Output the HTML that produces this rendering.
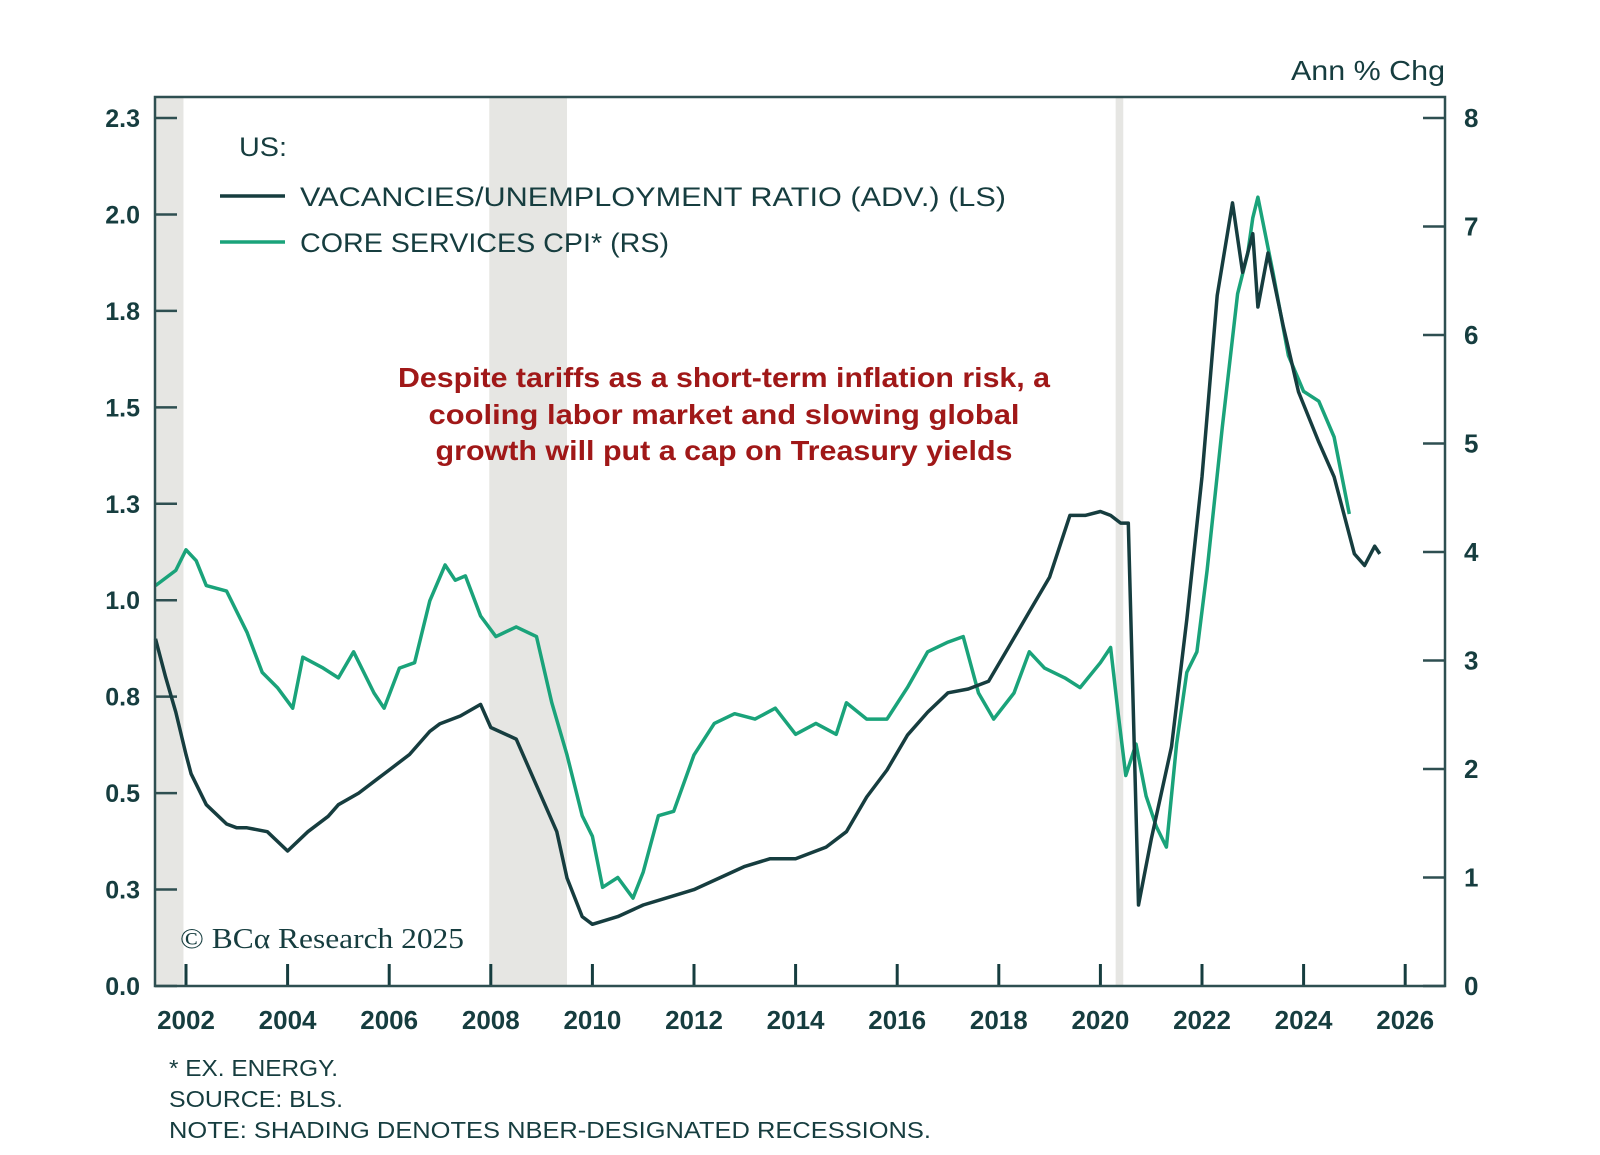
<!DOCTYPE html>
<html><head><meta charset="utf-8"><style>
html,body{margin:0;padding:0;background:#fff;}
svg{display:block;font-family:"Liberation Sans",sans-serif;}
</style></head><body>
<svg id="chart" width="1600" height="1155" viewBox="0 0 1600 1155" xmlns="http://www.w3.org/2000/svg">
<g id="shade"></g>
<g id="grid"></g>
<g id="lines"></g>
<rect x="155" y="97" width="1290" height="889" fill="none" stroke="#2e4f51" stroke-width="2.5"/>
<text x="1291" y="80" textLength="154" lengthAdjust="spacingAndGlyphs" font-size="28" fill="#163d3f">Ann % Chg</text>
<text x="239" y="156" textLength="48" lengthAdjust="spacingAndGlyphs" font-size="27" fill="#163d3f">US:</text>
<line x1="220" y1="196" x2="285" y2="196" stroke="#163d3f" stroke-width="3.5"/>
<text x="300" y="206" textLength="706" lengthAdjust="spacingAndGlyphs" font-size="27" fill="#163d3f">VACANCIES/UNEMPLOYMENT RATIO (ADV.) (LS)</text>
<line x1="220" y1="242" x2="285" y2="242" stroke="#1aa37a" stroke-width="3.5"/>
<text x="300" y="252" textLength="369" lengthAdjust="spacingAndGlyphs" font-size="27" fill="#163d3f">CORE SERVICES CPI* (RS)</text>
<g font-size="28" font-weight="bold" fill="#a01818" text-anchor="middle">
<text x="724" y="387" textLength="652" lengthAdjust="spacingAndGlyphs">Despite tariffs as a short-term inflation risk, a</text>
<text x="724" y="424" textLength="591" lengthAdjust="spacingAndGlyphs">cooling labor market and slowing global</text>
<text x="724" y="460" textLength="577" lengthAdjust="spacingAndGlyphs">growth will put a cap on Treasury yields</text>
</g>
<text x="180" y="948" textLength="284" lengthAdjust="spacingAndGlyphs" font-size="28" fill="#163d3f" font-family="Liberation Serif, serif">© BCα Research 2025</text>
<g font-size="23" fill="#163d3f">
<text x="169" y="1076" textLength="169" lengthAdjust="spacingAndGlyphs">* EX. ENERGY.</text>
<text x="169" y="1107" textLength="174" lengthAdjust="spacingAndGlyphs">SOURCE: BLS.</text>
<text x="169" y="1138" textLength="762" lengthAdjust="spacingAndGlyphs">NOTE: SHADING DENOTES NBER-DESIGNATED RECESSIONS.</text>
</g>
</svg>
<script>
const xTicks=[2002,2004,2006,2008,2010,2012,2014,2016,2018,2020,2022,2024,2026];
const leftTicks=[0,0.25,0.5,0.75,1,1.25,1.5,1.75,2,2.25];
const leftTickLabels=["0.0","0.3","0.5","0.8","1.0","1.3","1.5","1.8","2.0","2.3"];
const rightTicks=[0,1,2,3,4,5,6,7,8];
const recessions=[[2001.2,2001.95],[2007.97,2009.5],[2020.3,2020.45]];
const vuYears=[2001.4,2001.6,2001.8,2002.0,2002.1,2002.4,2002.8,2003.0,2003.2,2003.6,2004.0,2004.4,2004.8,2005.0,2005.4,2005.8,2006.0,2006.4,2006.8,2007.0,2007.4,2007.8,2008.0,2008.5,2008.9,2009.3,2009.5,2009.8,2010.0,2010.5,2011.0,2011.5,2012.0,2012.5,2013.0,2013.5,2014.0,2014.6,2015.0,2015.4,2015.8,2016.2,2016.6,2017.0,2017.4,2017.8,2018.2,2018.6,2019.0,2019.4,2019.7,2020.0,2020.2,2020.4,2020.55,2020.75,2021.0,2021.4,2021.7,2022.0,2022.3,2022.6,2022.8,2023.0,2023.1,2023.3,2023.6,2023.9,2024.3,2024.6,2025.0,2025.2,2025.4,2025.5];
const vuValues=[0.90,0.80,0.71,0.60,0.55,0.47,0.42,0.41,0.41,0.40,0.35,0.40,0.44,0.47,0.50,0.54,0.56,0.60,0.66,0.68,0.70,0.73,0.67,0.64,0.52,0.40,0.28,0.18,0.16,0.18,0.21,0.23,0.25,0.28,0.31,0.33,0.33,0.36,0.40,0.49,0.56,0.65,0.71,0.76,0.77,0.79,0.88,0.97,1.06,1.22,1.22,1.23,1.22,1.20,1.20,0.21,0.38,0.62,0.95,1.32,1.79,2.03,1.85,1.95,1.76,1.90,1.71,1.54,1.41,1.32,1.12,1.09,1.14,1.12];
const cpiYears=[2001.4,2001.8,2002.0,2002.2,2002.4,2002.8,2003.2,2003.5,2003.8,2004.1,2004.3,2004.7,2005.0,2005.3,2005.7,2005.9,2006.2,2006.5,2006.8,2007.1,2007.3,2007.5,2007.8,2008.1,2008.5,2008.9,2009.2,2009.5,2009.8,2010.0,2010.2,2010.5,2010.8,2011.0,2011.3,2011.6,2012.0,2012.4,2012.8,2013.2,2013.6,2014.0,2014.4,2014.8,2015.0,2015.4,2015.8,2016.2,2016.6,2017.0,2017.3,2017.6,2017.9,2018.3,2018.6,2018.9,2019.3,2019.6,2020.0,2020.2,2020.35,2020.5,2020.7,2020.9,2021.1,2021.3,2021.5,2021.7,2021.9,2022.1,2022.4,2022.7,2022.9,2023.0,2023.1,2023.4,2023.7,2024.0,2024.3,2024.6,2024.9];
const cpiValues=[3.69,3.83,4.02,3.92,3.69,3.64,3.26,2.89,2.75,2.56,3.03,2.93,2.84,3.08,2.70,2.56,2.93,2.98,3.55,3.88,3.74,3.78,3.41,3.22,3.31,3.22,2.61,2.13,1.57,1.38,0.91,1.00,0.81,1.05,1.57,1.61,2.13,2.42,2.51,2.46,2.56,2.32,2.42,2.32,2.61,2.46,2.46,2.75,3.08,3.17,3.22,2.70,2.46,2.70,3.08,2.93,2.84,2.75,2.98,3.12,2.51,1.94,2.23,1.75,1.47,1.28,2.23,2.89,3.08,3.83,5.15,6.38,6.75,7.08,7.27,6.57,5.81,5.48,5.39,5.06,4.35];
const NS='http://www.w3.org/2000/svg';
const L=155,R=1445,B=986,T=118;
const xs=y=>186+(y-2002)*50.8;
const yl=v=>B-v/2.25*(B-T);
const yr=v=>B-v/8*(B-T);
function mk(tag,attrs,parent){const e=document.createElementNS(NS,tag);for(const k in attrs)e.setAttribute(k,attrs[k]);parent.appendChild(e);return e;}
const shade=document.getElementById('shade'),grid=document.getElementById('grid'),lines=document.getElementById('lines');
recessions.forEach(r=>{const x0=Math.max(L,xs(r[0]));const e=mk('rect',{x:x0,y:97,width:xs(r[1])-x0,height:B-97,fill:'#e6e6e3'},shade);

});
xTicks.forEach(t=>{const x=xs(t);const l=mk('line',{x1:x,x2:x,y1:B,y2:B-22,stroke:'#163d3f','stroke-width':3},grid);


const tx=mk('text',{x:x,y:1029,'text-anchor':'middle','font-size':26,'font-weight':'bold',fill:'#163d3f'},grid);tx.textContent=t;

});
leftTicks.forEach((t,i)=>{const y=yl(t);const l=mk('line',{x1:L,x2:L+22,y1:y,y2:y,stroke:'#2e4f51','stroke-width':2.5},grid);


const tx=mk('text',{x:140,y:y+9,'text-anchor':'end','font-size':25,'font-weight':'bold',fill:'#163d3f'},grid);tx.textContent=leftTickLabels[i];

});
rightTicks.forEach(t=>{const y=yr(t);const l=mk('line',{x1:R-22,x2:R,y1:y,y2:y,stroke:'#2e4f51','stroke-width':2.5},grid);


const tx=mk('text',{x:1464,y:y+9,'font-size':26,'font-weight':'bold',fill:'#163d3f'},grid);tx.textContent=t;

});
const cpiPts=cpiYears.map((y,i)=>xs(y).toFixed(1)+','+yr(cpiValues[i]).toFixed(1)).join(' ');
const c=mk('polyline',{points:cpiPts,fill:'none',stroke:'#1aa37a','stroke-width':3.5,'stroke-linejoin':'round'},lines);


const vuPts=vuYears.map((y,i)=>xs(y).toFixed(1)+','+yl(vuValues[i]).toFixed(1)).join(' ');
const v=mk('polyline',{points:vuPts,fill:'none',stroke:'#163d3f','stroke-width':3.5,'stroke-linejoin':'round'},lines);


</script>
</body></html>
